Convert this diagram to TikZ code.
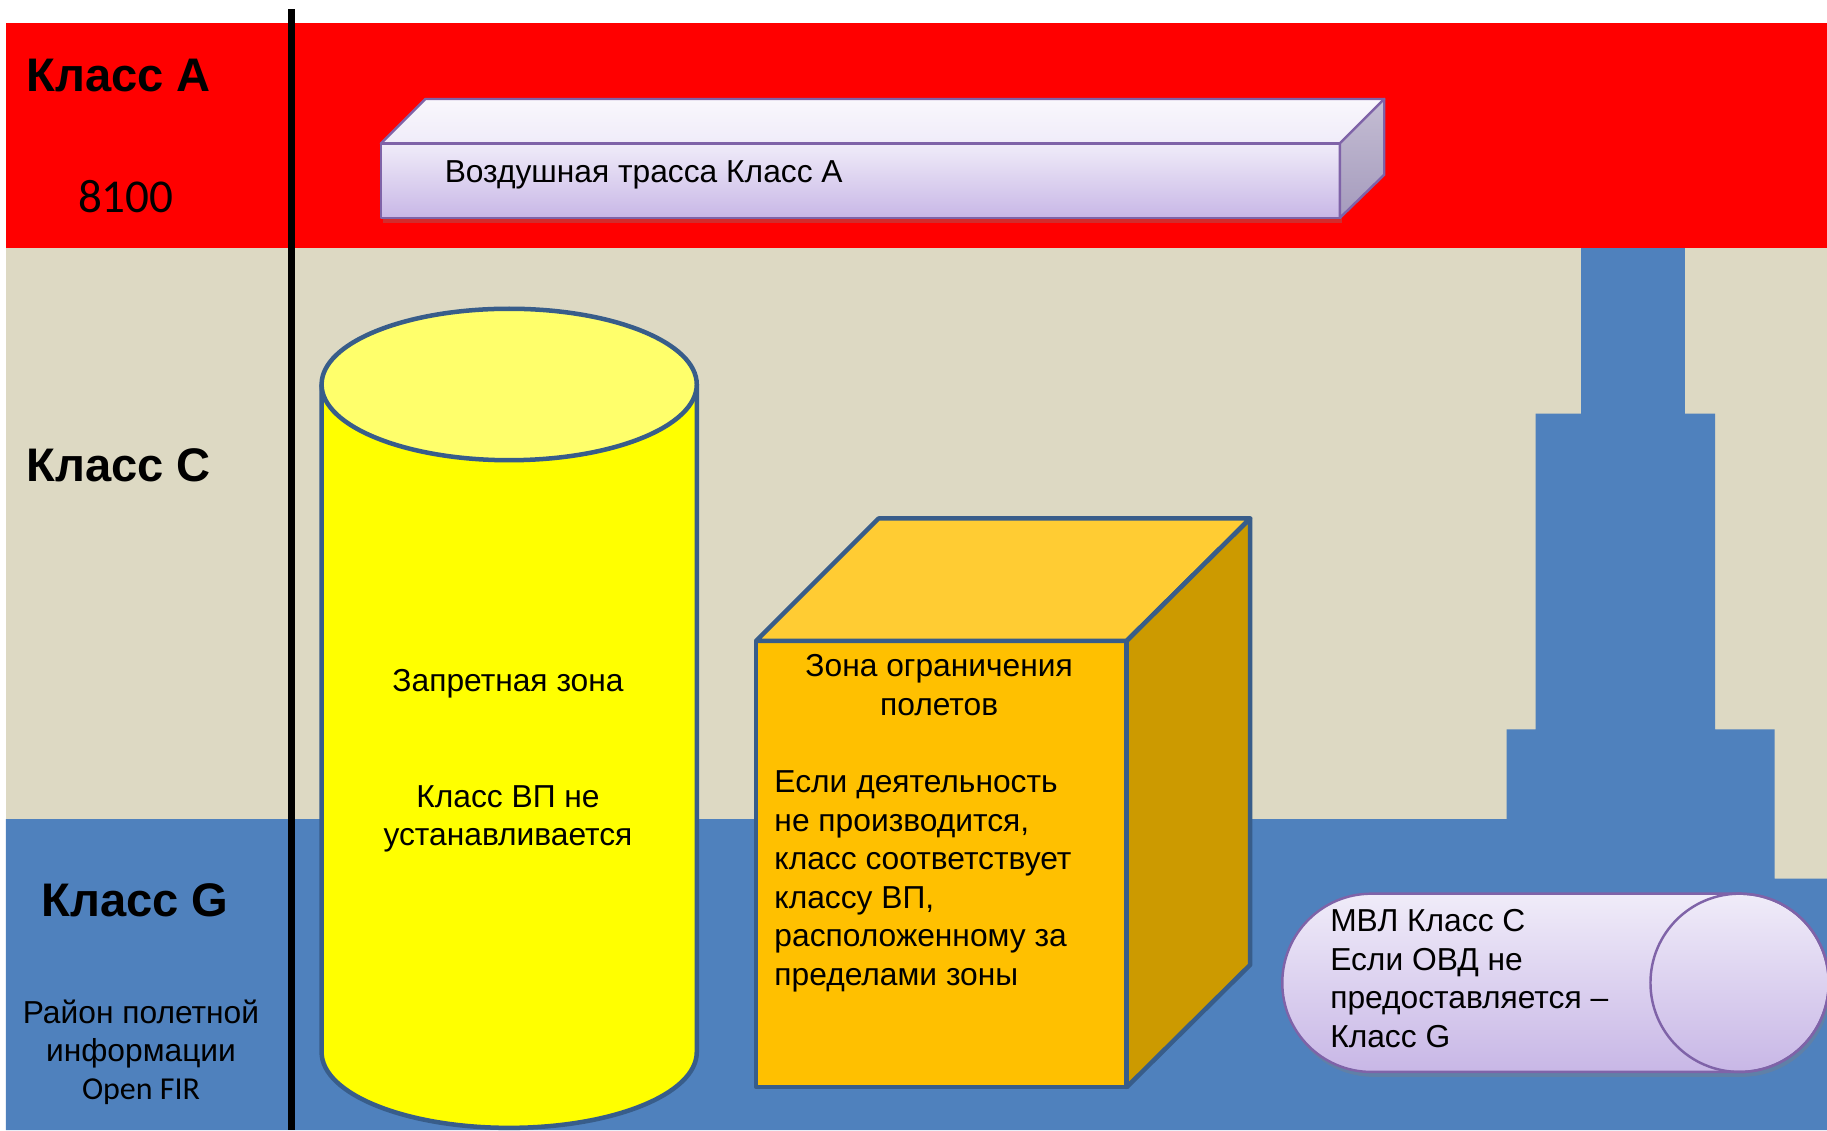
\documentclass[tikz,border=0pt]{standalone}
\usepackage{fontspec}
\setmainfont{Liberation Sans}
\newfontfamily\carlito{Carlito}
\usepackage{tikz}
\usetikzlibrary{shadows}

\definecolor{bandred}{HTML}{FF0000}
\definecolor{bandtan}{HTML}{DDD9C3}
\definecolor{bandblue}{HTML}{4F81BD}
\definecolor{edgeblue}{HTML}{385D8A}
\definecolor{edgepurple}{HTML}{7F63A8}
\definecolor{lavtop}{HTML}{F0ECF9}
\definecolor{lavbot}{HTML}{C8B7E6}
\definecolor{sidetop}{HTML}{C4BDD3}
\definecolor{sidebot}{HTML}{A59BBD}
\definecolor{cylbody}{HTML}{FFFF00}
\definecolor{cyltop}{HTML}{FFFF6B}
\definecolor{cubefront}{HTML}{FFC000}
\definecolor{cubetop}{HTML}{FFCC33}
\definecolor{cubeside}{HTML}{CC9A00}

\begin{document}
\begin{tikzpicture}[x=0.01cm, y=0.01cm,
  font=\fontsize{7.75}{9.4}\selectfont,
  cls/.style={anchor=west, inner sep=0pt, font=\fontsize{11.5}{14}\selectfont\bfseries},
  txt/.style={inner sep=0pt},
  solid3d/.style={draw=edgeblue, line width=1.1pt, line join=round},
  tube/.style={draw=edgepurple, line width=0.6pt, line join=round, top color=lavtop, bottom color=lavbot},
  shade3d/.style={drop shadow={opacity=0.35, shadow xshift=0.5pt, shadow yshift=-1.2pt}}]
\useasboundingbox (0,0) rectangle (1568,970);
% airspace bands
\fill[bandtan] (5,216) rectangle (1568,757);
\fill[bandred] (5,757) rectangle (1568,950);
\fill[bandblue] (5,0) -- (5,267) -- (1293,267) -- (1293,344) -- (1318,344) -- (1318,615)
  -- (1357,615) -- (1357,757) -- (1446,757) -- (1446,615) -- (1472,615) -- (1472,344)
  -- (1523,344) -- (1523,216) -- (1568,216) -- (1568,0) -- cycle;
\draw[line width=1.6pt] (250,962) -- (250,0);

% class labels
\node[cls] (clsA) at (22,905) {Класс А};
\node[txt, font=\carlito\fontsize{11.5}{14}\selectfont] (alt) at (108,801) {8100};
\node[cls] (clsC) at (22,571) {Класс С};
\node[cls] (clsG) at (35,197) {Класс G};
\node[txt, align=center] (fir) at (121,82.5) {Район полетной\\информации};
\node[txt, font=\carlito\fontsize{7.8}{9.4}\selectfont] (firen) at (121,33) {Open FIR};

% airway
\draw[tube, shade3d] (327,783) rectangle (1150,847);
\draw[tube, top color=white!60!lavtop, bottom color=lavtop] (327,847) -- (365,885) -- (1188,885) -- (1150,847) -- cycle;
\draw[tube, top color=sidetop, bottom color=sidebot] (1150,847) -- (1188,885) -- (1188,820) -- (1150,783) -- cycle;
\node[txt, anchor=west] (route) at (381,819.5) {Воздушная трасса Класс А};

% prohibited area
\draw[solid3d, fill=cylbody] (276,640) -- (276,67) arc[start angle=180, end angle=360, x radius=161, y radius=65] -- (598,640);
\draw[solid3d, fill=cyltop] (437,640) ellipse[x radius=161, y radius=65];
\node[txt] (prohib) at (436,383) {Запретная зона};
\node[txt, align=center] (prohibcls) at (436,267) {Класс ВП не\\устанавливается};

% restricted area
\draw[solid3d, fill=cubefront] (649,37) rectangle (967,420);
\draw[solid3d, fill=cubetop] (649,420) -- (754,525) -- (1073,525) -- (967,420) -- cycle;
\draw[solid3d, fill=cubeside] (967,420) -- (1073,525) -- (1073,142) -- (967,37) -- cycle;
\node[txt, align=center] (restr) at (806,382) {Зона ограничения\\полетов};
\node[txt, align=left, anchor=west] (restrcls) at (664,213.5) {Если деятельность\\не производится,\\класс соответствует\\классу ВП,\\расположенному за\\пределами зоны};

% local airline
\draw[tube, shade3d] (1177,203) -- (1493,203) arc[start angle=90, end angle=-90, radius=76.5]
  -- (1177,50) arc[start angle=270, end angle=90, radius=76.5] -- cycle;
\draw[edgepurple, line width=0.6pt] (1493,126.5) circle[radius=76.5];
\node[txt, align=left, anchor=west] (mvl) at (1141,130) {МВЛ Класс С\\Если ОВД не\\предоставляется –\\Класс G};
\end{tikzpicture}
\end{document}
